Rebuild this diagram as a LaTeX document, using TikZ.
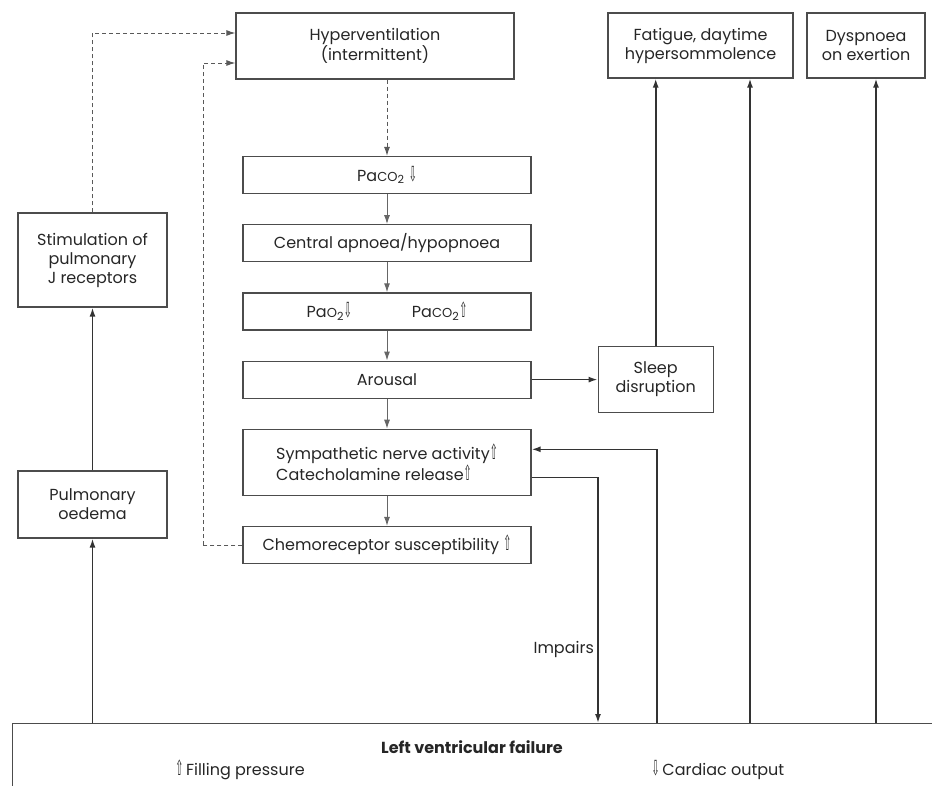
\documentclass[tikz,border=0pt]{standalone}
\usepackage{fontspec}
\setmainfont{Poppins}
\newfontfamily\arrowfont{DejaVu Sans}
\usetikzlibrary{shapes,arrows,arrows.meta,positioning}
\tikzstyle{box} = [draw=black!70, line width=1.2pt, align=center, text=black!85, inner sep=2pt]
\tikzstyle{colbox} = [box, minimum width=288pt, minimum height=37pt]
\tikzstyle{flow} = [-{Latex[length=9pt,width=6pt]}, line width=1.6pt, draw=black!80]
\tikzstyle{thin} = [-{Latex[length=9pt,width=6pt]}, line width=1pt, draw=black!60]
\tikzstyle{loop} = [-{Latex[length=9pt,width=6pt]}, dash pattern=on 4pt off 3pt, line width=1pt, draw=black!65]
\newcommand{\rise}{{\arrowfont\scalebox{0.6}[1.3]{⇧}}}
\newcommand{\fall}{{\arrowfont\scalebox{0.6}[1.3]{⇩}}}
\newcommand{\gas}[1]{{\fontsize{13}{13}\selectfont\MakeUppercase{#1}}}

\begin{document}
\begin{tikzpicture}[x=1pt,y=1pt,font=\fontsize{16}{19}\selectfont]
\clip (0,0) rectangle (932,-785);

% top row
\node[box, minimum width=278pt, minimum height=66pt] (hyper) at (375,-46) {Hyperventilation\\(intermittent)};
\node[box, minimum width=185pt, minimum height=65pt] (fatigue) at (700.5,-45.5) {Fatigue, daytime\\hypersommolence};
\node[box, minimum width=118pt, minimum height=65pt] (dysp) at (866,-45.5) {Dyspnoea\\on exertion};

% central column
\node[colbox] (paco) at (387,-175) {Pa\gas{co}\textsubscript{2} \fall};
\node[colbox, below=30pt of paco] (apnoea) {Central apnoea/hypopnoea};
\node[colbox, below=30pt of apnoea] (pao) {Pa\gas{o}\textsubscript{2}\fall\hspace{60pt}Pa\gas{co}\textsubscript{2}\rise};
\node[colbox, below=30pt of pao] (arousal) {Arousal};
\node[colbox, minimum height=66pt, below=30pt of arousal, align=left] (symp) {Sympathetic nerve activity\rise\\Catecholamine release\rise};
\node[colbox, below=30pt of symp] (chemo) {Chemoreceptor susceptibility \rise};
\node[box, minimum width=115pt, minimum height=66pt, right=66pt of arousal] (sleep) {Sleep\\disruption};

% left column
\node[box, minimum width=149pt, minimum height=94pt] (jrec) at (92.5,-260) {Stimulation of\\pulmonary\\J receptors};
\node[box, minimum width=149pt, minimum height=67pt] (oedema) at (92.5,-504.5) {Pulmonary\\oedema};

% bottom
\node[box, minimum width=940pt, minimum height=75pt, anchor=north west] (lvf) at (12,-723) {};
\node[text=black!85] (lvftitle) at (472,-747) {\bfseries Left ventricular failure};
\node[text=black!85] (filling) at (240,-770) {\rise\,Filling pressure};
\node[text=black!85] (cardiac) at (718,-770) {\fall\,Cardiac output};

\coordinate (lvfa) at (598,-723);
\coordinate (lvfb) at (657,-723);
\coordinate (lvfc) at (750,-723);
\coordinate (lvfd) at (876,-723);

% loops back to hyperventilation
\draw[loop] (jrec.north) |- ([yshift=13pt]hyper.west);
\draw[loop, -] (chemo.west) -- ++(-39,0) coordinate (chemoturn);
\draw[loop] (chemoturn) |- ([yshift=-17pt]hyper.west);
\draw[loop] (hyper.south -| paco.north) -- (paco.north);

\foreach \a/\b in {paco/apnoea, apnoea/pao, pao/arousal, arousal/symp, symp/chemo}
  \draw[thin] (\a) -- (\b);

\path
(arousal) edge[flow] (sleep)
(sleep) edge[flow] (sleep |- fatigue.south)
(lvfc) edge[flow] (lvfc |- fatigue.south)
(lvfd) edge[flow] (lvfd |- dysp.south)
(lvf.north -| oedema.south) edge[flow] (oedema.south)
(oedema) edge[flow] (jrec);

\draw[flow] (lvfb) |- ([yshift=13pt]symp.east);
\draw[flow] ([yshift=-15pt]symp.east) -| (lvfa) node[pos=0.85, left, text=black!85] {Impairs};
\end{tikzpicture}
\end{document}
